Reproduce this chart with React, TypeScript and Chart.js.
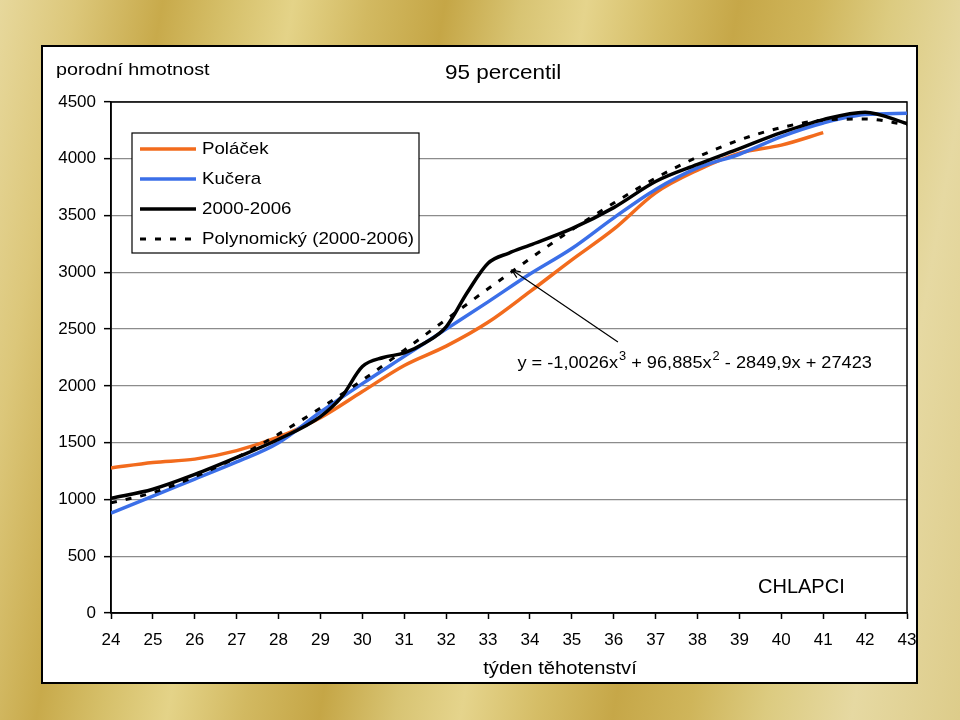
import React, { useEffect, useRef } from "react";
import { Chart, registerables } from "chart.js";

Chart.register(...registerables);

// ---- data ----
const weeks = [24, 25, 26, 27, 28, 29, 30, 31, 32, 33, 34, 35, 36, 37, 38, 39, 40, 41, 42, 43];
const yTicks = [0, 500, 1000, 1500, 2000, 2500, 3000, 3500, 4000, 4500];

const polacekWeeks = [24, 25, 26, 27, 28, 29, 30, 31, 32, 33, 34, 35, 36, 37, 38, 39, 40, 41];
const polacekValues = [1277, 1325, 1355, 1430, 1550, 1720, 1950, 2180, 2350, 2560, 2830, 3110, 3380, 3700, 3900, 4050, 4120, 4230];

const kuceraValues = [880, 1030, 1180, 1330, 1500, 1770, 2020, 2260, 2500, 2740, 2985, 3210, 3480, 3730, 3920, 4040, 4195, 4315, 4390, 4400];

const cohortWeeks = [24, 25, 26, 27, 28, 29, 29.5, 30, 30.5, 31, 31.5, 32, 32.5, 33, 33.5, 34, 35, 36, 37, 38, 39, 40, 41, 42, 43];
const cohortValues = [1010, 1090, 1220, 1370, 1530, 1730, 1900, 2170, 2250, 2290, 2380, 2520, 2820, 3080, 3170, 3240, 3385, 3570, 3800, 3950, 4090, 4230, 4345, 4410, 4310];

const trendValues = [970, 1060, 1200, 1370, 1575, 1805, 2050, 2315, 2585, 2855, 3120, 3375, 3610, 3830, 4015, 4165, 4275, 4340, 4350, 4300];

const seriesLabels = ["Poláček", "Kučera", "2000-2006", "Polynomický (2000-2006)"];
const yTitle = "porodní hmotnost";
const chartTitle = "95 percentil";
const xTitle = "týden těhotenství";
const sexLabel = "CHLAPCI";
const equationParts: [string, boolean][] = [
  ["y = -1,0026x", false],
  ["3", true],
  [" + 96,885x", false],
  ["2", true],
  [" - 2849,9x + 27423", false],
];
// arrow from (week, grams) to (week, grams)
const arrowFrom = [36.1, 2386];
const arrowTo = [33.57, 3020];
const equationAnchor = [33.7, 2195];

const ORANGE = "#F26B1D";
const BLUE = "#3B6FE8";
const BLACK = "#000000";
const FONT = '"Liberation Sans", Arial, sans-serif';

function pts(xs: number[], ys: number[]) {
  return xs.map((x, i) => ({ x, y: ys[i] }));
}

function drawText(
  ctx: CanvasRenderingContext2D,
  s: string,
  x: number,
  y: number,
  size: number,
  sx: number,
  align: "left" | "center" | "right" = "left"
) {
  ctx.save();
  ctx.font = `normal ${size}px ${FONT}`;
  ctx.textBaseline = "middle";
  ctx.fillStyle = "#000";
  ctx.translate(x, y);
  ctx.scale(sx, 1);
  const w = ctx.measureText(s).width;
  const dx = align === "center" ? -w / 2 : align === "right" ? -w : 0;
  ctx.fillText(s, dx, 0);
  ctx.restore();
  return w * sx;
}

const decorPlugin = {
  id: "decor",
  beforeDatasetsDraw(chart: any) {
    const { ctx, chartArea } = chart;
    const { left, top, right, bottom } = chartArea;
    ctx.save();
    ctx.strokeStyle = "#000";
    ctx.lineWidth = 1.5;
    ctx.strokeRect(left, top, right - left, bottom - top);
    ctx.restore();
  },
  afterDraw(chart: any) {
    const { ctx, chartArea, scales } = chart;
    const { left, top } = chartArea;
    const xs = scales.x;
    const ys = scales.y;

    // titles
    drawText(ctx, yTitle, 13, 23, 17, 1.16, "left");
    drawText(ctx, chartTitle, 402, 26, 21, 1.07, "left");
    drawText(ctx, xTitle, 517, 622, 18, 1.12, "center");
    drawText(ctx, sexLabel, 715, 540, 20, 1.0, "left");

    // legend box
    const bx = left + 21;
    const by = top + 31;
    const bw = 287;
    const bh = 120;
    ctx.save();
    ctx.fillStyle = "#fff";
    ctx.fillRect(bx, by, bw, bh);
    ctx.strokeStyle = "#000";
    ctx.lineWidth = 1.2;
    ctx.strokeRect(bx, by, bw, bh);
    ctx.restore();
    chart.data.datasets.forEach((ds: any, i: number) => {
      const cy = by + 16 + i * 30;
      ctx.save();
      ctx.strokeStyle = ds.borderColor;
      ctx.lineWidth = ds.borderWidth;
      ctx.setLineDash(ds.borderDash || []);
      ctx.beginPath();
      ctx.moveTo(bx + 8, cy);
      ctx.lineTo(bx + 64, cy);
      ctx.stroke();
      ctx.restore();
      drawText(ctx, ds.label, bx + 70, cy, 17, 1.1, "left");
    });

    // arrow
    const x1 = xs.getPixelForValue(arrowFrom[0]);
    const y1 = ys.getPixelForValue(arrowFrom[1]);
    const x2 = xs.getPixelForValue(arrowTo[0]);
    const y2 = ys.getPixelForValue(arrowTo[1]);
    ctx.save();
    ctx.strokeStyle = "#000";
    ctx.lineWidth = 1.2;
    ctx.beginPath();
    ctx.moveTo(x1, y1);
    ctx.lineTo(x2, y2);
    const ang = Math.atan2(y1 - y2, x1 - x2);
    const ah = 9;
    ctx.moveTo(x2 + ah * Math.cos(ang + 0.4), y2 + ah * Math.sin(ang + 0.4));
    ctx.lineTo(x2, y2);
    ctx.lineTo(x2 + ah * Math.cos(ang - 0.4), y2 + ah * Math.sin(ang - 0.4));
    ctx.stroke();
    ctx.restore();

    // equation
    let ex = xs.getPixelForValue(equationAnchor[0]);
    const ey = ys.getPixelForValue(equationAnchor[1]);
    equationParts.forEach(([s, sup]) => {
      if (sup) {
        ex += 1;
        ex += drawText(ctx, s, ex, ey - 7, 12, 1.07, "left");
      } else {
        ex += drawText(ctx, s, ex, ey, 17, 1.07, "left");
      }
    });
  },
};

export default function App() {
  const ref = useRef<HTMLCanvasElement | null>(null);

  useEffect(() => {
    if (!ref.current) return;
    const chart = new Chart(ref.current, {
      type: "line",
      data: {
        datasets: [
          {
            label: seriesLabels[0],
            data: pts(polacekWeeks, polacekValues),
            borderColor: ORANGE,
            borderWidth: 3.5,
            order: 4,
          },
          {
            label: seriesLabels[1],
            data: pts(weeks, kuceraValues),
            borderColor: BLUE,
            borderWidth: 3.5,
            order: 3,
          },
          {
            label: seriesLabels[2],
            data: pts(cohortWeeks, cohortValues),
            borderColor: BLACK,
            borderWidth: 3.5,
            order: 2,
          },
          {
            label: seriesLabels[3],
            data: pts(weeks, trendValues),
            borderColor: BLACK,
            borderWidth: 3,
            borderDash: [6, 9],
            order: 1,
          },
        ] as any,
      },
      options: {
        animation: false,
        responsive: false,
        maintainAspectRatio: false,
        devicePixelRatio: 1,
        layout: { padding: { top: 55, right: 9, left: 0, bottom: 0 } },
        elements: {
          point: { radius: 0, hoverRadius: 0 },
          line: { fill: false, cubicInterpolationMode: "monotone", borderCapStyle: "butt" },
        },
        plugins: {
          legend: { display: false },
          tooltip: { enabled: false },
          title: { display: false },
        },
        scales: {
          x: {
            type: "linear",
            min: weeks[0],
            max: weeks[weeks.length - 1],
            afterBuildTicks: (s: any) => {
              s.ticks = weeks.map((v) => ({ value: v }));
            },
            ticks: {
              color: "#000",
              font: { size: 17, family: FONT },
              padding: 11,
              maxRotation: 0,
              autoSkip: false,
              callback: (v: any) => String(v),
            },
            grid: {
              drawOnChartArea: false,
              drawTicks: true,
              tickLength: 6,
              tickColor: "#000",
              tickWidth: 1.5,
            },
            border: { color: "#000", width: 1.5 },
            afterFit: (s: any) => {
              s.height = 69;
              s.paddingLeft = 0;
              s.paddingRight = 0;
            },
          },
          y: {
            type: "linear",
            min: yTicks[0],
            max: yTicks[yTicks.length - 1],
            afterBuildTicks: (s: any) => {
              s.ticks = yTicks.map((v) => ({ value: v }));
            },
            ticks: {
              color: "#000",
              font: { size: 17, family: FONT },
              padding: 8,
              callback: (v: any) => String(v),
            },
            grid: {
              color: "#8c8c8c",
              lineWidth: 1.3,
              tickColor: "#000",
              tickLength: 7,
              tickWidth: 1.5,
            },
            border: { color: "#000", width: 1.5 },
            afterFit: (s: any) => {
              s.width = 68;
              s.paddingTop = 0;
              s.paddingBottom = 0;
            },
          },
        },
      } as any,
      plugins: [decorPlugin],
    });
    return () => chart.destroy();
  }, []);

  const gold =
    "linear-gradient(100deg, #e7d89c 0%, #dcc77a 7%, #c8aa4b 15%, #d6c06a 21%, #e4d388 27%, #d2b961 34%, #c5a646 41%, #d8c473 48%, #e5d48c 54%, #d5bd66 61%, #c6a748 68%, #cfb55a 75%, #dccb80 82%, #e6d9a2 90%, #ddcc8a 100%)";

  return (
    <div
      style={{
        position: "fixed",
        left: 0,
        top: 0,
        width: 960,
        height: 720,
        background: gold,
        overflow: "hidden",
      }}
    >
      <div
        style={{
          position: "absolute",
          left: 41,
          top: 45,
          width: 877,
          height: 639,
          boxSizing: "border-box",
          border: "2px solid #000",
          background: "#fff",
        }}
      >
        <canvas ref={ref} width={873} height={635} style={{ display: "block", width: 873, height: 635 }} />
      </div>
    </div>
  );
}
